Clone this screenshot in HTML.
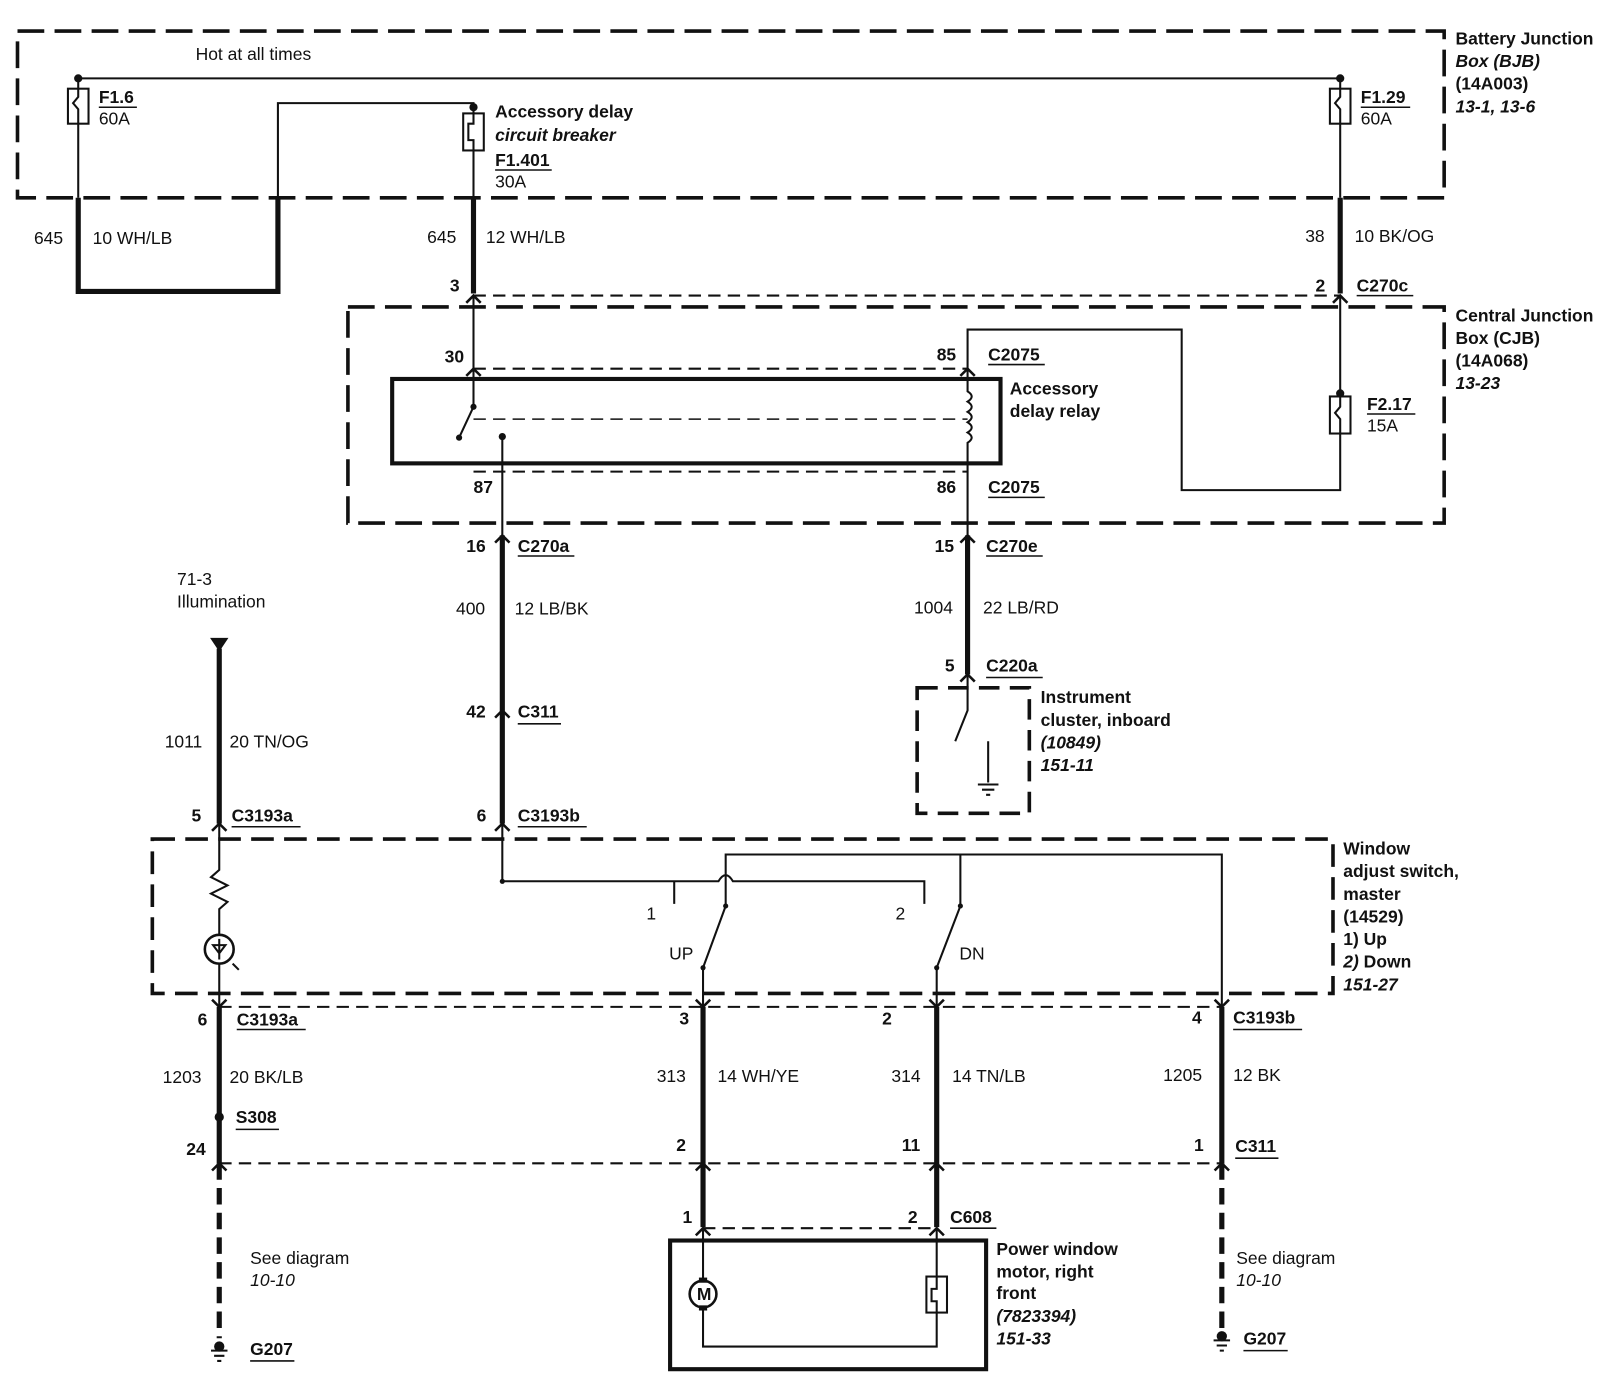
<!DOCTYPE html>
<html><head><meta charset="utf-8"><style>
html,body{margin:0;padding:0;background:#fff}
svg{display:block}
text{font-family:"Liberation Sans",Arial,sans-serif;font-size:17px;fill:#111}
.b{font-weight:bold}
.i{font-style:italic;font-weight:bold}
</style></head><body>
<svg width="1614" height="1392" viewBox="0 0 1568 1352" xmlns="http://www.w3.org/2000/svg">
<g fill="none" stroke="#111">
<!-- dashed boxes -->
<rect x="17" y="30" width="1386" height="162" stroke-width="3.5" stroke-dasharray="26,10"/>
<rect x="338" y="298" width="1065" height="210" stroke-width="3.5" stroke-dasharray="26,10"/>
<rect x="148" y="815" width="1147" height="150" stroke-width="3.5" stroke-dasharray="22,10"/>
<rect x="891" y="668" width="109" height="122" stroke-width="3.5" stroke-dasharray="20,10"/>
<!-- top bus -->
<path d="M76 76H1302" stroke-width="2"/>
<path d="M76 76V86M76 120V192M1302 76V86M1302 120V192" stroke-width="2"/>
<rect x="66" y="86" width="20" height="34" stroke-width="2"/>
<rect x="1292" y="86" width="20" height="34" stroke-width="2"/>
<path d="M76 86v8l-5 6l5 6v14M1302 86v8l-5 6l5 6v14" stroke-width="2"/>
<!-- 645 loop -->
<path d="M76 192V283H270V192" stroke-width="5"/>
<path d="M270 192V100H460V110" stroke-width="2"/>
<rect x="450" y="110" width="20" height="36" stroke-width="2"/>
<path d="M460 110v10h-5v16h5v10" stroke-width="2"/>
<path d="M460 146V192" stroke-width="2"/>
<path d="M460 192V285M1302 192V285" stroke-width="5"/>
<!-- C270 dashed -->
<path d="M460 287H1302" stroke-width="2" stroke-dasharray="12,7"/>
<path d="M453 294L460 287L467 294M1295 294L1302 287L1309 294" stroke-width="2.5"/>
<!-- CJB internals -->
<path d="M460 287V395L446 425" stroke-width="2"/>
<path d="M460 358H940" stroke-width="2" stroke-dasharray="12,7"/>
<path d="M453 365L460 358L467 365M933 365L940 358L947 365" stroke-width="2.5"/>
<rect x="381" y="368" width="591" height="82" stroke-width="4"/>
<path d="M460 407H940" stroke-width="1.5" stroke-dasharray="12,7"/>
<path d="M488 424V520" stroke-width="2"/>
<path d="M940 358V380q8 5 0 10q8 5 0 10q8 5 0 10q8 5 0 10q8 5 0 10V520" stroke-width="2"/>
<path d="M460 458H940" stroke-width="2" stroke-dasharray="12,7"/>
<path d="M940 358V320H1148V476H1302V422M1302 287V385" stroke-width="2"/>
<rect x="1292" y="385" width="20" height="36" stroke-width="2"/>
<path d="M1302 385v10l-5 6l5 6v14" stroke-width="2"/>
<!-- C270a line -->
<path d="M488 520V800M940 520V655" stroke-width="5"/>
<path d="M481 527L488 520L495 527M933 527L940 520L947 527M481 697L488 690L495 697M481 807L488 800L495 807M933 662L940 655L947 662M206 807L213 800L220 807" stroke-width="2.5"/>
<!-- instrument switch -->
<path d="M940 655V690L928 720M960 720V760" stroke-width="2"/>
<path d="M950 762h20M954 767h12M958 772h4" stroke-width="2"/>
<!-- illumination -->
<path d="M213 630V800" stroke-width="5"/>
<path d="M205 620H221L213 632Z" fill="#111" stroke-width="1"/>
<path d="M213 800V845l-8 7l16 8l-16 8l16 8l-8 7V908M213 936V978" stroke-width="2"/>
<circle cx="213" cy="922" r="14" stroke-width="2.5"/>
<path d="M213 912V932M207 918H219L213 926Z" stroke-width="2"/>
<path d="M226 936l6 6" stroke-width="2"/>
<!-- window switch -->
<path d="M488 800V856H698q7-12 14 0H898V878M655 856V878M705 880V830H1187V978M933 880V830" stroke-width="2"/>
<path d="M705 880L683 940V978M933 880L910 940V978" stroke-width="2"/>
<!-- bottom connectors -->
<path d="M213 978H1187" stroke-width="2" stroke-dasharray="12,7"/>
<path d="M206 971L213 978L220 971M676 971L683 978L690 971M903 971L910 978L917 971M1180 971L1187 978L1194 971" stroke-width="2.5"/>
<path d="M213 978V1130M683 978V1192M910 978V1192M1187 978V1130" stroke-width="5"/>
<path d="M213 1130H1187" stroke-width="2" stroke-dasharray="12,7"/>
<path d="M206 1137L213 1130L220 1137M676 1137L683 1130L690 1137M903 1137L910 1130L917 1137M1180 1137L1187 1130L1194 1137" stroke-width="2.5"/>
<path d="M213 1130V1300M1187 1130V1290" stroke-width="5" stroke-dasharray="16,8"/>
<path d="M683 1193H910" stroke-width="2" stroke-dasharray="12,7"/>
<path d="M676 1200L683 1193L690 1200M903 1200L910 1193L917 1200" stroke-width="2.5"/>
<!-- motor -->
<rect x="651" y="1205" width="307" height="125" stroke-width="4"/>
<path d="M683 1193V1244M683 1270V1308H910V1275M910 1193V1240" stroke-width="2"/>
<circle cx="683" cy="1257" r="13" stroke-width="2.5"/>
<rect x="900" y="1240" width="20" height="35" stroke-width="2"/>
<path d="M910 1240v12h-5v12h5v11" stroke-width="2"/>
<!-- grounds -->
<path d="M205 1312h16M208 1317h10M211 1322h4M1179 1302h16M1182 1307h10M1185 1312h4" stroke-width="2"/>
<!-- underlines -->
<path d="M96 104h37M481 165h55M1322 104h48M1318 287h55M960 354h55M960 483h55M1328 402h47M503 540h55M958 540h55M503 703h42M958 658h55M503 803h67M225 803h67M230 1000h67M1198 1000h67M229 1097h42M1200 1125h42M923 1193h45M243 1322h43M1208 1312h43" stroke-width="1.5"/>
</g>
<g fill="#111">
<circle cx="76" cy="76" r="4"/><circle cx="1302" cy="76" r="4"/><circle cx="460" cy="104" r="4"/>
<circle cx="460" cy="395" r="3"/><circle cx="446" cy="425" r="3"/><circle cx="488" cy="424" r="3.5"/>
<circle cx="1302" cy="382" r="4"/><circle cx="213" cy="1085" r="4.5"/><circle cx="488" cy="856" r="2.5"/>
<circle cx="705" cy="880" r="2.5"/><circle cx="933" cy="880" r="2.5"/><circle cx="683" cy="940" r="2.5"/><circle cx="910" cy="940" r="2.5"/>
<circle cx="213" cy="1308" r="5"/><circle cx="1187" cy="1298" r="5"/>
<rect x="679" y="1241" width="8" height="5"/><rect x="679" y="1268" width="8" height="5"/>
</g>
<text x="190" y="58">Hot at all times</text>
<text x="96" y="100" class="b">F1.6</text><text x="96" y="121">60A</text>
<text x="481" y="114" class="b">Accessory delay</text>
<text x="481" y="137" class="i">circuit breaker</text>
<text x="481" y="161" class="b">F1.401</text><text x="481" y="182">30A</text>
<text x="1322" y="100" class="b">F1.29</text><text x="1322" y="121">60A</text>
<text x="1414" y="43" class="b">Battery Junction</text>
<text x="1414" y="65" class="i">Box (BJB)</text>
<text x="1414" y="87" class="b">(14A003)</text>
<text x="1414" y="109" class="i">13-1, 13-6</text>
<text x="33" y="237">645</text><text x="90" y="237">10  WH/LB</text>
<text x="415" y="236">645</text><text x="472" y="236">12  WH/LB</text>
<text x="1268" y="235">38</text><text x="1316" y="235">10  BK/OG</text>
<text x="437" y="283" class="b">3</text>
<text x="1278" y="283" class="b">2</text><text x="1318" y="283" class="b">C270c</text>
<text x="1414" y="312" class="b">Central Junction</text>
<text x="1414" y="334" class="b">Box (CJB)</text>
<text x="1414" y="356" class="b">(14A068)</text>
<text x="1414" y="378" class="i">13-23</text>
<text x="432" y="352" class="b">30</text><text x="910" y="350" class="b">85</text><text x="960" y="350" class="b">C2075</text>
<text x="981" y="383" class="b">Accessory</text><text x="981" y="405" class="b">delay relay</text>
<text x="1328" y="398" class="b">F2.17</text><text x="1328" y="419">15A</text>
<text x="460" y="479" class="b">87</text><text x="910" y="479" class="b">86</text><text x="960" y="479" class="b">C2075</text>
<text x="453" y="536" class="b">16</text><text x="503" y="536" class="b">C270a</text>
<text x="908" y="536" class="b">15</text><text x="958" y="536" class="b">C270e</text>
<text x="443" y="597">400</text><text x="500" y="597">12  LB/BK</text>
<text x="888" y="596">1004</text><text x="955" y="596">22  LB/RD</text>
<text x="172" y="568">71-3</text><text x="172" y="590">Illumination</text>
<text x="918" y="652" class="b">5</text><text x="958" y="652" class="b">C220a</text>
<text x="1011" y="683" class="b">Instrument</text>
<text x="1011" y="705" class="b">cluster, inboard</text>
<text x="1011" y="727" class="i">(10849)</text>
<text x="1011" y="749" class="i">151-11</text>
<text x="453" y="697" class="b">42</text><text x="503" y="697" class="b">C311</text>
<text x="160" y="726">1011</text><text x="223" y="726">20  TN/OG</text>
<text x="186" y="798" class="b">5</text><text x="225" y="798" class="b">C3193a</text>
<text x="463" y="798" class="b">6</text><text x="503" y="798" class="b">C3193b</text>
<text x="1305" y="830" class="b">Window</text>
<text x="1305" y="852" class="b">adjust switch,</text>
<text x="1305" y="874" class="b">master</text>
<text x="1305" y="896" class="b">(14529)</text>
<text x="1305" y="918" class="b">1)    Up</text>
<text x="1305" y="940" class="b"><tspan font-style="italic">2)</tspan>    Down</text>
<text x="1305" y="962" class="i">151-27</text>
<text x="628" y="893">1</text><text x="870" y="893">2</text>
<text x="650" y="932">UP</text><text x="932" y="932">DN</text>
<text x="192" y="996" class="b">6</text><text x="230" y="996" class="b">C3193a</text>
<text x="660" y="995" class="b">3</text><text x="857" y="995" class="b">2</text>
<text x="1158" y="994" class="b">4</text><text x="1198" y="994" class="b">C3193b</text>
<text x="158" y="1052">1203</text><text x="223" y="1052">20  BK/LB</text>
<text x="638" y="1051">313</text><text x="697" y="1051">14  WH/YE</text>
<text x="866" y="1051">314</text><text x="925" y="1051">14  TN/LB</text>
<text x="1130" y="1050">1205</text><text x="1198" y="1050">12  BK</text>
<text x="229" y="1091" class="b">S308</text>
<text x="181" y="1122" class="b">24</text><text x="657" y="1118" class="b">2</text>
<text x="876" y="1118" class="b">11</text><text x="1160" y="1118" class="b">1</text><text x="1200" y="1119" class="b">C311</text>
<text x="663" y="1188" class="b">1</text><text x="882" y="1188" class="b">2</text><text x="923" y="1188" class="b">C608</text>
<text x="968" y="1219" class="b">Power window</text>
<text x="968" y="1241" class="b">motor, right</text>
<text x="968" y="1262" class="b">front</text>
<text x="968" y="1284" class="i">(7823394)</text>
<text x="968" y="1306" class="i">151-33</text>
<text x="677" y="1263" class="b" font-size="15">M</text>
<text x="243" y="1228">See diagram</text><text x="243" y="1249" font-style="italic">10-10</text>
<text x="243" y="1316" class="b">G207</text>
<text x="1201" y="1228">See diagram</text><text x="1201" y="1249" font-style="italic">10-10</text>
<text x="1208" y="1306" class="b">G207</text>
</svg>
</body></html>
